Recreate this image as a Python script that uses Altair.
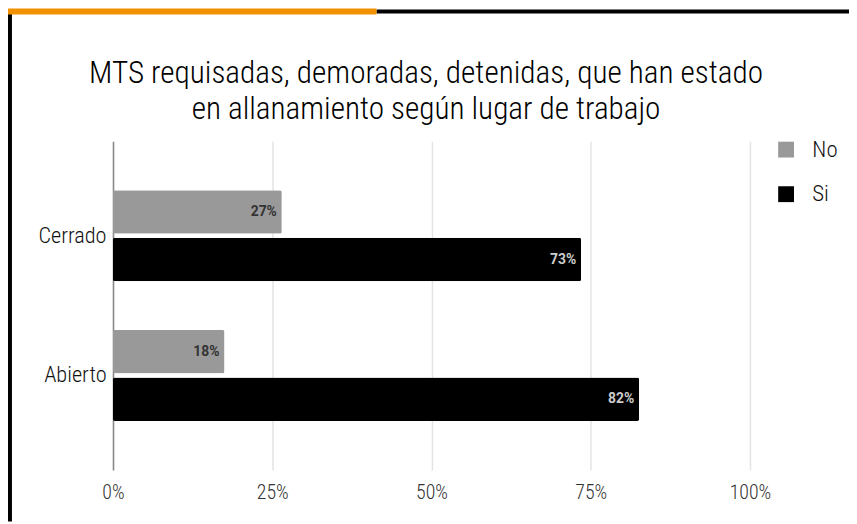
import altair as alt
import pandas as pd

lugares = ["Cerrado", "Abierto"]
series = ["No", "Si"]
no_vals = [26.5, 17.5]
si_vals = [73.5, 82.6]
no_labels = ["27%", "18%"]
si_labels = ["73%", "82%"]
tick_vals = [0, 25, 50, 75, 100]
titulo = ["MTS requisadas, demoradas, detenidas, que han estado",
          "en allanamiento según lugar de trabajo"]

rows = []
for i, l in enumerate(lugares):
    rows.append({"lugar": l, "serie": "No", "valor": no_vals[i], "etiqueta": no_labels[i]})
    rows.append({"lugar": l, "serie": "Si", "valor": si_vals[i], "etiqueta": si_labels[i]})
df = pd.DataFrame(rows)

FONT = "'Roboto Condensed', 'Liberation Sans Narrow', 'Arial Narrow', 'DejaVu Sans Condensed', Roboto, sans-serif"
LIGHT = 300

y_enc = alt.Y("lugar:N", sort=lugares,
              scale=alt.Scale(paddingInner=0.348, paddingOuter=0.351),
              axis=alt.Axis(title=None, labelFont=FONT, labelFontSize=22.5, labelFontWeight=LIGHT,
                            labelColor="#111111",
                            labelPadding=7, ticks=False, domain=True, domainColor="#888888",
                            domainWidth=1.5, grid=False))
yoff = alt.YOffset("serie:N", sort=series, scale=alt.Scale(paddingInner=0.085))
x_enc = alt.X("valor:Q", scale=alt.Scale(domain=[0, 100], nice=False),
              axis=alt.Axis(title=None, values=tick_vals, labelExpr="datum.value + '%'",
                            labelFont=FONT, labelFontSize=20, labelFontWeight=LIGHT,
                            labelColor="#333333", labelFlush=False,
                            labelPadding=13, ticks=False, domain=False, grid=True,
                            gridColor="#e4e4e4", gridWidth=1.5))

base = alt.Chart(df)

bars = base.mark_bar(cornerRadius=2).encode(
    x=x_enc, y=y_enc, yOffset=yoff,
    color=alt.Color("serie:N", sort=series,
                    scale=alt.Scale(domain=series, range=["#999999", "#000000"]),
                    legend=alt.Legend(title=None, orient="none", legendX=668, legendY=-3,
                                      symbolType="square", symbolSize=256, symbolStrokeWidth=0,
                                      symbolOpacity=1, labelFont=FONT, labelFontSize=23,
                                      labelFontWeight=LIGHT,
                                      labelColor="#111111", labelOffset=15, rowPadding=21,
                                      padding=0)),
)

txt_no = base.transform_filter(alt.datum.serie == "No").mark_text(
    align="right", baseline="middle", dx=-5, font="Roboto", fontSize=14,
    fontWeight="bold", color="#333333").encode(
    x="valor:Q", y=alt.Y("lugar:N", sort=lugares), yOffset=alt.YOffset("serie:N", sort=series),
    text="etiqueta:N")

txt_si = base.transform_filter(alt.datum.serie == "Si").mark_text(
    align="right", baseline="middle", dx=-5, font="Roboto", fontSize=14,
    fontWeight="bold", color="#cccccc").encode(
    x="valor:Q", y=alt.Y("lugar:N", sort=lugares), yOffset=alt.YOffset("serie:N", sort=series),
    text="etiqueta:N")

deco = alt.Chart(pd.DataFrame({"d": [0]}))
left_border = deco.mark_rule(color="#000000", strokeWidth=4).encode(
    x=alt.value(-104), y=alt.value(-132), y2=alt.value(384))
top_black = deco.mark_rule(color="#000000", strokeWidth=4).encode(
    x=alt.value(266), x2=alt.value(745), y=alt.value(-131))
top_orange = deco.mark_rule(color="#F29100", strokeWidth=6).encode(
    x=alt.value(-106), x2=alt.value(266), y=alt.value(-131))

title1 = deco.mark_text(font=FONT, fontSize=31.5, fontWeight=LIGHT, color="#000000",
                        align="center", baseline="middle", text=titulo[0]).encode(
    x=alt.value(316), y=alt.value(-68))
title2 = deco.mark_text(font=FONT, fontSize=31.5, fontWeight=LIGHT, color="#000000",
                        align="center", baseline="middle", text=titulo[1]).encode(
    x=alt.value(316), y=alt.value(-31))

chart = alt.layer(bars, txt_no, txt_si, left_border, top_black, top_orange,
                  title1, title2).properties(
    width=643, height=332,
    padding={"left": 106, "top": 132, "right": 100, "bottom": 52},
    autosize=alt.AutoSizeParams(type="none"),
).configure(background="white").configure_view(stroke="transparent")

chart.save("out.html", embed_options={"renderer": "svg", "actions": False})
